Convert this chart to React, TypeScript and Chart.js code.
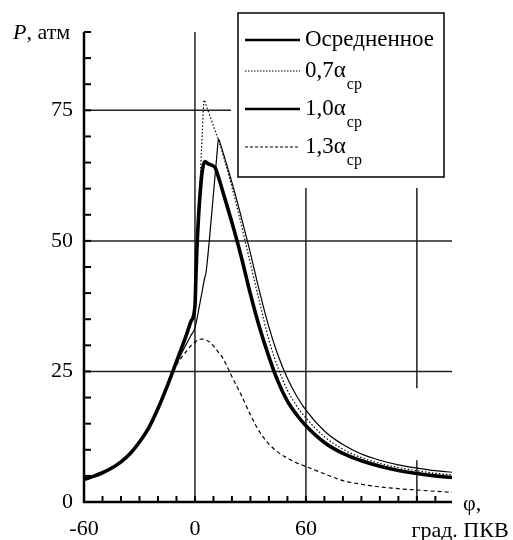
import React, { useEffect, useRef } from "react";
import { Chart, registerables } from "chart.js";

Chart.register(...registerables);

// ---- data ----
const avgPhi = [-60, -55, -50, -45, -40, -35, -30, -25, -20, -15, -10, -5, -2, 0, 0.5, 1, 2, 3, 4, 5.4, 7, 9, 11, 12, 13, 15, 20, 25, 30, 35, 40, 45, 50, 55, 60, 70, 80, 90, 100, 110, 120, 130, 139];
const avgP = [4.3, 4.9, 5.6, 6.5, 7.7, 9.3, 11.5, 14.2, 17.9, 22.2, 26.9, 31.6, 34.7, 37.5, 43, 48, 55, 60, 63.5, 65.2, 64.8, 64.5, 64, 63, 61.9, 59.5, 53.5, 47, 39.8, 33.3, 27.8, 23, 19.3, 16.7, 14.6, 11.4, 9.3, 7.9, 6.85, 6.05, 5.45, 5.0, 4.7];

const a07Phi = [-60, -50, -40, -30, -20, -15, -10, -5, -2, 0, 1, 2, 3, 4, 5, 6, 8, 10, 13, 16, 20, 24, 27, 30, 35, 40, 45, 50, 55, 60, 70, 80, 90, 100, 110, 120, 130, 139];
const a07P = [4.3, 5.6, 7.7, 11.5, 17.9, 22.2, 26.9, 31.6, 34.7, 37.8, 45, 54, 63, 71, 77, 76, 74, 72, 69, 65.5, 60.3, 54.7, 50.2, 45.6, 38.2, 31, 25.6, 21.4, 18.4, 16.1, 12.5, 10.1, 8.5, 7.4, 6.6, 6.0, 5.5, 5.2];

const a10Phi = [-60, -50, -40, -30, -20, -15, -10, -5, -2, 0, 2, 4, 5, 6, 8, 10, 12, 12.7, 14, 16, 18, 20, 24, 28, 30, 35, 40, 45, 50, 55, 60, 70, 80, 90, 100, 110, 120, 130, 139];
const a10P = [4.3, 5.6, 7.7, 11.5, 17.9, 22, 26.4, 30, 32, 33.3, 36.8, 40.5, 42.5, 44, 51, 59, 67, 69.5, 68.3, 66, 63.6, 61.2, 56, 50.5, 47.6, 40.2, 33.5, 28, 23.7, 20.3, 17.6, 13.6, 11, 9.2, 8.0, 7.1, 6.5, 6.0, 5.7];

const a13Phi = [-60, -50, -40, -30, -20, -15, -10, -5, -2, 0, 2, 4, 6, 8, 10, 12, 15, 18, 20, 25, 30, 35, 40, 45, 50, 55, 60, 70, 80, 90, 100, 110, 120, 130, 139];
const a13P = [4.3, 5.6, 7.7, 11.5, 17.9, 22, 26.2, 28.7, 30, 30.6, 31.1, 31.2, 31, 30.6, 29.9, 29, 27.6, 25.5, 24, 20.5, 16.7, 13.4, 11.1, 9.5, 8.4, 7.5, 6.8, 5.4, 4.1, 3.4, 2.9, 2.55, 2.3, 2.05, 1.85];

const legendMain = ["Осредненное", "0,7α", "1,0α", "1,3α"];
const legendSub = ["", "ср", "ср", "ср"];

const xMin = -60;
const xMax = 139;
const yMin = 0;
const yMax = 90;
const xLabelVals = [-60, 0, 60];
const yLabelVals = [0, 25, 50, 75];
const xMinorStep = 10;
const yMinorStep = 5;
const hGrid = [25, 50, 75];
const vGrid = [0, 60, 120];
const vGridGap = { phi: 120, from: 8, to: 21.8 };

const FONT = "'Liberation Serif', 'Times New Roman', serif";

type Style = { width: number; dash: number[] };
const styles: Style[] = [
  { width: 3.6, dash: [] },
  { width: 1.2, dash: [1.5, 2] },
  { width: 1.2, dash: [] },
  { width: 1.2, dash: [4, 3] },
];

function pts(xs: number[], ys: number[]) {
  return xs.map((x, i) => ({ x, y: ys[i] }));
}

const decor = {
  id: "decor",
  beforeDatasetsDraw(chart: any) {
    const ctx = chart.ctx;
    const { left, right, top, bottom } = chart.chartArea;
    const xs = chart.scales.x;
    const ys = chart.scales.y;
    const legL = left + 154;
    const legB = 177;
    ctx.save();
    ctx.strokeStyle = "#222";
    ctx.lineWidth = 1.5;
    hGrid.forEach((v) => {
      const y = ys.getPixelForValue(v);
      const xEnd = y < legB + 5 ? legL - 7 : right;
      ctx.beginPath();
      ctx.moveTo(left, y);
      ctx.lineTo(xEnd, y);
      ctx.stroke();
    });
    vGrid.forEach((v) => {
      const x = xs.getPixelForValue(v);
      const yStart = x > legL - 2 ? legB + 11 : top;
      ctx.beginPath();
      if (v === vGridGap.phi) {
        ctx.moveTo(x, yStart);
        ctx.lineTo(x, ys.getPixelForValue(vGridGap.to));
        ctx.moveTo(x, ys.getPixelForValue(vGridGap.from));
        ctx.lineTo(x, bottom);
      } else {
        ctx.moveTo(x, yStart);
        ctx.lineTo(x, bottom);
      }
      ctx.stroke();
    });
    ctx.restore();
  },
  afterDatasetsDraw(chart: any) {
    const ctx = chart.ctx;
    const { left, right, top, bottom } = chart.chartArea;
    const xs = chart.scales.x;
    const ys = chart.scales.y;
    ctx.save();
    ctx.strokeStyle = "#000";
    // axes
    ctx.lineWidth = 2.5;
    ctx.beginPath();
    ctx.moveTo(left, top);
    ctx.lineTo(left, bottom);
    ctx.lineTo(right, bottom);
    ctx.stroke();
    ctx.lineWidth = 2;
    for (let v = xMin + xMinorStep; v <= xMax; v += xMinorStep) {
      const x = xs.getPixelForValue(v);
      ctx.beginPath();
      ctx.moveTo(x, bottom);
      ctx.lineTo(x, bottom - 6);
      ctx.stroke();
    }
    for (let v = yMin + yMinorStep; v <= yMax; v += yMinorStep) {
      const y = ys.getPixelForValue(v);
      ctx.beginPath();
      ctx.moveTo(left, y);
      ctx.lineTo(left + 7, y);
      ctx.stroke();
    }

    // legend box
    const lx = left + 154;
    const ly = 13;
    const lw = 206;
    const lh = 164;
    ctx.fillStyle = "#fff";
    ctx.fillRect(lx, ly, lw, lh);
    ctx.lineWidth = 1.5;
    ctx.strokeRect(lx, ly, lw, lh);
    const rowY = [40, 71, 109, 147];
    chart.data.datasets.forEach((ds: any, i: number) => {
      const y = rowY[i];
      ctx.save();
      ctx.lineWidth = i === 0 || i === 2 ? 2.5 : 1.2;
      ctx.setLineDash(i === 1 ? [1.5, 1.5] : i === 3 ? [3, 2] : []);
      ctx.beginPath();
      ctx.moveTo(lx + 7, y);
      ctx.lineTo(lx + 62, y);
      ctx.stroke();
      ctx.restore();
      ctx.fillStyle = "#000";
      ctx.textBaseline = "middle";
      ctx.textAlign = "left";
      ctx.font = `23px ${FONT}`;
      const main = legendMain[i];
      ctx.fillText(main, lx + 67, y);
      if (legendSub[i]) {
        const w = ctx.measureText(main).width;
        ctx.font = `16px ${FONT}`;
        ctx.fillText(legendSub[i], lx + 67 + w + 1, y + 14);
      }
    });

    // axis titles
    ctx.fillStyle = "#000";
    ctx.textBaseline = "middle";
    ctx.textAlign = "left";
    ctx.font = `italic 22px ${FONT}`;
    ctx.fillText("P", 13, 33);
    const pw = ctx.measureText("P").width;
    ctx.font = `22px ${FONT}`;
    ctx.fillText(", атм", 13 + pw, 33);
    ctx.fillText("φ,", right + 11, bottom + 2);
    ctx.textAlign = "center";
    ctx.textBaseline = "alphabetic";
    ctx.fillText("град. ПКВ", right + 8, bottom + 35);
    ctx.restore();
  },
};

export default function App() {
  const ref = useRef<HTMLCanvasElement | null>(null);
  useEffect(() => {
    if (!ref.current) return;
    const series = [
      pts(avgPhi, avgP),
      pts(a07Phi, a07P),
      pts(a10Phi, a10P),
      pts(a13Phi, a13P),
    ];
    const chart = new Chart(ref.current, {
      type: "line",
      data: {
        datasets: series.map((d, i) => ({
          label: legendMain[i] + legendSub[i],
          data: d,
          borderColor: "#000",
          backgroundColor: "#000",
          borderWidth: styles[i].width,
          borderDash: styles[i].dash,
          pointRadius: 0,
          fill: false,
          cubicInterpolationMode: "monotone" as const,
        })),
      },
      options: {
        animation: false,
        responsive: true,
        maintainAspectRatio: false,
        layout: { padding: { left: 0, top: 32, right: 61, bottom: 0 } },
        plugins: { legend: { display: false }, tooltip: { enabled: false } },
        scales: {
          x: {
            type: "linear",
            min: xMin,
            max: xMax,
            grid: { display: false, drawTicks: false },
            border: { display: false },
            ticks: {
              stepSize: xMinorStep,
              autoSkip: false,
              maxRotation: 0,
              padding: 14,
              color: "#000",
              font: { family: FONT, size: 22 },
              callback: (v: any) => (xLabelVals.includes(Number(v)) ? String(v) : ""),
            },
            afterFit: (s: any) => {
              s.height = 38;
            },
          },
          y: {
            type: "linear",
            min: yMin,
            max: yMax,
            grid: { display: false, drawTicks: false },
            border: { display: false },
            ticks: {
              stepSize: yMinorStep,
              autoSkip: false,
              padding: 11,
              color: "#000",
              font: { family: FONT, size: 22 },
              callback: (v: any) => (yLabelVals.includes(Number(v)) ? String(v) : ""),
            },
            afterFit: (s: any) => {
              s.width = 84;
            },
          },
        },
      },
      plugins: [decor],
    });
    return () => chart.destroy();
  }, []);
  return (
    <div style={{ position: "fixed", left: 0, top: 0, width: 513, height: 540, background: "#fff" }}>
      <canvas ref={ref} />
    </div>
  );
}
